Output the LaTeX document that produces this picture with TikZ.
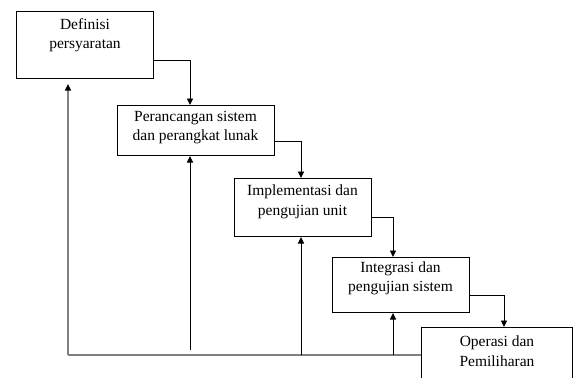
\documentclass[tikz,border=0pt]{standalone}
\usepackage{fontspec}
\setmainfont{Liberation Serif}
\usetikzlibrary{arrows.meta}
\begin{document}
\begin{tikzpicture}[x=1pt,y=-1pt,
  box/.style={draw=black,line width=1pt,inner sep=0pt,anchor=north west},
  txt/.style={inner sep=0pt,align=center,font=\fontsize{15.5}{19.5}\selectfont},
  flow/.style={draw=black,line width=0.9pt,-{Triangle[length=6.5pt,width=6pt]}},
  back/.style={draw=gray,line width=1.4pt},
  backup/.style={draw=black,line width=0.9pt,-{Triangle[length=6.5pt,width=6pt]}},
  backupg/.style={draw=gray,line width=1.4pt,-{Triangle[length=6.5pt,width=6pt,color=black]}}]
\useasboundingbox (0,0) rectangle (574,378);
\fill[white] (0,0) rectangle (574,378);
% boxes
\node[box,minimum width=137pt,minimum height=67pt] (b1) at (16,11) {};
\node[box,minimum width=157pt,minimum height=50pt] (b2) at (117,105) {};
\node[box,minimum width=137pt,minimum height=58pt] (b3) at (234,178) {};
\node[box,minimum width=137pt,minimum height=55pt] (b4) at (332,257) {};
\draw[line width=1pt] (421,390) |- (572,327) -- (572,390);
\coordinate (b5n) at (504,327);
\coordinate (b5w) at (421,355);
% texts
\node[txt] (t1) at (85,35) {Definisi\\persyaratan};
\node[txt] (t2) at (195.5,127.5) {Perancangan sistem\\dan perangkat lunak};
\node[txt] (t3) at (302.5,202) {Implementasi dan\\pengujian unit};
\node[txt] (t4) at (400.5,278.5) {Integrasi dan\\pengujian sistem};
\node[txt] (t5) at (497,351) {Operasi dan\\Pemiliharan};
% forward arrows
\draw[flow] (b1.north east |- 0,60) -| (b2.north west -| 190,0);
\draw[flow] (b2.north east |- 0,141) -| (b3.north west -| 301,0);
\draw[flow] (b3.north east |- 0,217) -| (b4.north west -| 393,0);
\draw[flow] (b4.north east |- 0,295) -| (b5n);
% feedback
\coordinate (c0) at (68,355);
\draw[back] (b5w) -- (c0);
\draw[backupg] (c0) -- (68,84);
\coordinate (c2) at (190,350);
\draw[backup] (c2) -- (b2.south west -| 190,0);
\coordinate (c3) at (301,355);
\draw[backup] (c3) -- (b3.south west -| 301,0);
\coordinate (c4) at (393,355);
\draw[backup] (c4) -- (b4.south west -| 393,0);
\end{tikzpicture}
\end{document}
